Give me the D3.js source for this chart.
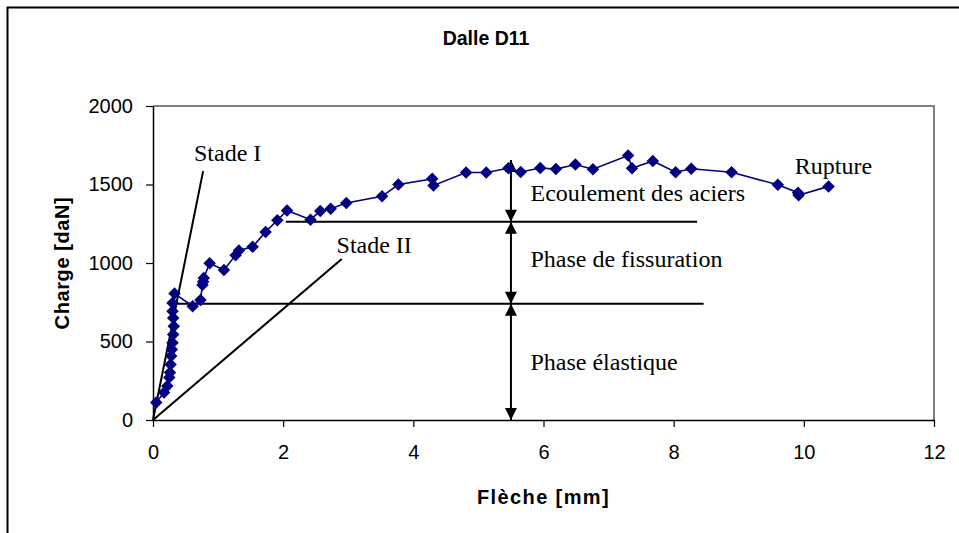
<!DOCTYPE html>
<html>
<head>
<meta charset="utf-8">
<script src="https://cdn.jsdelivr.net/npm/d3@7"></script>
<style>
  html, body { margin: 0; padding: 0; background: #fff; }
  svg { display: block; }
</style>
</head>
<body>
<svg id="chart" width="959" height="533"></svg>
<script>
// ---- Data ----
const fleche = [0.05, 0.17, 0.22, 0.25, 0.26, 0.27, 0.28, 0.29, 0.30, 0.31, 0.32, 0.31, 0.30, 0.30, 0.33,
  0.61, 0.73, 0.76, 0.77, 0.78, 0.87, 1.09, 1.27, 1.32, 1.53, 1.73, 1.91, 2.06, 2.42, 2.57, 2.73, 2.97,
  3.52, 3.77, 4.29, 4.31, 4.81, 5.12, 5.46, 5.65, 5.95, 6.19, 6.49, 6.76, 7.30, 7.36, 7.68, 8.03, 8.27,
  8.89, 9.60, 9.91, 9.92, 10.38];
const charge = [112, 175, 217, 270, 302, 354, 407, 449, 492, 544, 597, 650, 692, 745, 805,
  725, 765, 860, 880, 905, 998, 955, 1050, 1080, 1103, 1198, 1272, 1335, 1276, 1331, 1346, 1382,
  1425, 1500, 1536, 1494, 1576, 1576, 1603, 1580, 1605, 1598, 1627, 1597, 1684, 1603, 1650, 1578, 1600,
  1578, 1498, 1448, 1432, 1488];

const xTicks = [0, 2, 4, 6, 8, 10, 12];
const yTicks = [0, 500, 1000, 1500, 2000];

// annotation lines (data coords)
const stadeI = [[0, 0], [0.77, 1585]];
const stadeII = [[0, 0], [2.90, 1025]];
const lineFissuration = [[2.04, 1263], [8.36, 1263]];
const lineElastique = [[0.34, 740], [8.46, 740]];
const arrowX = 5.5;
const arrowLevels = [0, 740, 1263, 1656];

const labels = [
  { text: "Stade I", x: 0.63, y: 1650 },
  { text: "Stade II", x: 2.82, y: 1064 },
  { text: "Ecoulement des aciers", x: 5.80, y: 1395 },
  { text: "Phase de fissuration", x: 5.80, y: 975 },
  { text: "Phase élastique", x: 5.80, y: 318 },
  { text: "Rupture", x: 9.86, y: 1567 }
];

// ---- Layout ----
const svg = d3.select("#chart");
const x = d3.scaleLinear().domain([0, 12]).range([153, 934]);
const y = d3.scaleLinear().domain([0, 2000]).range([420, 106]);
const sans = "'Liberation Sans', Arial, sans-serif";
const serif = "'Liberation Serif', 'Times New Roman', serif";

// outer frame
svg.append("rect").attr("x", 7.5).attr("y", 7.5).attr("width", 1000).attr("height", 600)
  .attr("fill", "#fff").attr("stroke", "#000").attr("stroke-width", 2);

// plot frame (top & right grey)
svg.append("path")
  .attr("d", `M${x(0)},${y(2000)}H${x(12)}V${y(0)}`)
  .attr("fill", "none").attr("stroke", "#808080").attr("stroke-width", 2);

// axes
const xAxis = svg.append("g").attr("transform", `translate(0,${y(0)})`)
  .call(d3.axisBottom(x).tickValues(xTicks).tickSize(7).tickSizeOuter(0).tickPadding(18).tickFormat(d3.format("d")));
const yAxis = svg.append("g").attr("transform", `translate(${x(0)},0)`)
  .call(d3.axisLeft(y).tickValues(yTicks).tickSize(7).tickSizeOuter(0).tickPadding(13).tickFormat(d3.format("d")));
[xAxis, yAxis].forEach(g => {
  g.select(".domain").attr("stroke", "#000").attr("stroke-width", 1.5);
  g.selectAll(".tick line").attr("stroke", "#000").attr("stroke-width", 1.2);
  g.selectAll(".tick text").attr("fill", "#000")
    .style("font-family", sans).style("font-size", "20px");
});

// annotation lines
const line = d3.line().x(d => x(d[0])).y(d => y(d[1]));
[stadeI, stadeII, lineFissuration, lineElastique].forEach(seg => {
  svg.append("path").attr("d", line(seg)).attr("fill", "none").attr("stroke", "#000").attr("stroke-width", 2);
});

// vertical arrow line
svg.append("path").attr("d", line([[arrowX, arrowLevels[0]], [arrowX, arrowLevels[3]]]))
  .attr("stroke", "#000").attr("stroke-width", 2).attr("fill", "none");
function arrowHead(level, dir) { // dir: -1 up, +1 down (apex at level)
  const cx = x(arrowX), cy = y(level), w = 6, h = 12;
  return `M${cx},${cy}L${cx - w},${cy - dir * h}L${cx + w},${cy - dir * h}Z`;
}
const heads = [
  [arrowLevels[0], 1], [arrowLevels[1], -1], [arrowLevels[1], 1],
  [arrowLevels[2], -1], [arrowLevels[2], 1], [arrowLevels[3], -1]
];
svg.selectAll("path.head").data(heads).enter().append("path").attr("class", "head")
  .attr("d", d => arrowHead(d[0], d[1])).attr("fill", "#000");

// data series
const pts = fleche.map((f, i) => [f, charge[i]]);
svg.append("path").attr("d", line(pts)).attr("fill", "none").attr("stroke", "#000080").attr("stroke-width", 1.6);
svg.selectAll("path.mk").data(pts).enter().append("path").attr("class", "mk")
  .attr("d", d3.symbol().type(d3.symbolSquare).size(78))
  .attr("transform", d => `translate(${x(d[0])},${y(d[1])}) rotate(45)`)
  .attr("fill", "#000080");

// annotation labels
svg.selectAll("text.lab").data(labels).enter().append("text").attr("class", "lab")
  .attr("x", d => x(d.x)).attr("y", d => y(d.y)).text(d => d.text)
  .style("font-family", serif).style("font-size", "24px").attr("fill", "#000");

// titles
svg.append("text").attr("x", 486).attr("y", 45).attr("text-anchor", "middle").text("Dalle D11")
  .style("font-family", sans).style("font-size", "19.5px").style("font-weight", "bold");
svg.append("text").attr("x", (x(0) + x(12)) / 2).attr("y", 504).attr("text-anchor", "middle").text("Flèche [mm]")
  .style("font-family", sans).style("font-size", "20px").style("font-weight", "bold").style("letter-spacing", "1.4px");
svg.append("text").attr("transform", `translate(69,${(y(0) + y(2000)) / 2}) rotate(-90)`).attr("text-anchor", "middle")
  .text("Charge [daN]")
  .style("font-family", sans).style("font-size", "20px").style("font-weight", "bold").style("letter-spacing", "0.6px");
</script>
</body>
</html>
